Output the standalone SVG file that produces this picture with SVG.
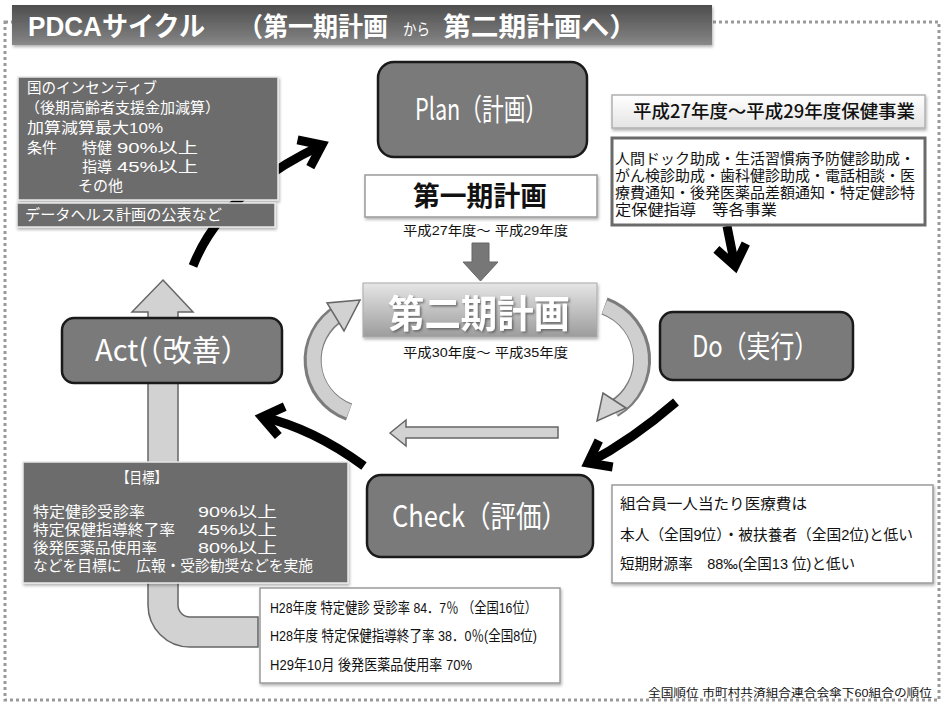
<svg xmlns="http://www.w3.org/2000/svg" width="945" height="709" viewBox="0 0 945 709">
<defs>
<style>
text{font-family:"Liberation Sans","Noto Sans CJK JP",sans-serif;}
.jp{font-family:"Noto Sans CJK JP","Liberation Sans",sans-serif;}
.w{fill:#fff;}
.k{fill:#111;}
.node{fill:#7a7a7a;stroke:#1a1a1a;stroke-width:2.5;}
.dark{fill:#6c6c6c;stroke:#e8e8e8;stroke-width:1.5;}
.wbox{fill:#fff;stroke:#9a9a9a;stroke-width:1.5;}
.lbl{font-size:30px;fill:#fff;}
.sm{font-size:15px;}
.xs{font-size:14.5px;}
.conn{fill:none;stroke:#000;stroke-width:9;}
.garc1{fill:none;stroke:#7c7c7c;stroke-width:18;}
.garc2{fill:none;stroke:#cfcfcf;stroke-width:14;}
.gfill{fill:#d2d2d2;stroke:#666;stroke-width:1.5;}
</style>
<linearGradient id="title" x1="0" y1="0" x2="0" y2="1">
<stop offset="0" stop-color="#4e4e4e"/>
<stop offset="0.8" stop-color="#7a7a7a"/>
<stop offset="1" stop-color="#8a8a8a"/>
</linearGradient>
<linearGradient id="p2" x1="0" y1="0" x2="0" y2="1">
<stop offset="0" stop-color="#e6e6e6"/>
<stop offset="1" stop-color="#9c9c9c"/>
</linearGradient>
<linearGradient id="hdr" x1="0" y1="0" x2="0" y2="1">
<stop offset="0" stop-color="#ffffff"/>
<stop offset="1" stop-color="#e4e4e4"/>
</linearGradient>
<marker id="chev" markerUnits="userSpaceOnUse" markerWidth="40" markerHeight="40" viewBox="-30 -20 40 40" refX="0" refY="0" orient="auto">
<path d="M-20,-15 L0,0 L-20,15" fill="none" stroke="#000" stroke-width="9" stroke-linejoin="miter"/>
</marker>
<filter id="sh" x="-10%" y="-10%" width="120%" height="130%">
<feDropShadow dx="1" dy="2" stdDeviation="1.5" flood-color="#000" flood-opacity="0.3"/>
</filter>
<filter id="tsh" x="-10%" y="-20%" width="120%" height="140%">
<feDropShadow dx="1.5" dy="1.5" stdDeviation="1.2" flood-color="#555" flood-opacity="0.8"/>
</filter>
</defs>
<rect width="945" height="709" fill="#fff"/>
<rect x="5" y="22" width="934" height="678" fill="none" stroke="#9a9a9a" stroke-width="3" stroke-dasharray="3 3"/>

<g id="title-bar">
<rect x="12" y="5" width="700" height="40" fill="url(#title)" filter="url(#sh)"/>
<text x="28" y="36" class="w" font-size="27" font-weight="bold" textLength="177" lengthAdjust="spacingAndGlyphs">PDCAサイクル</text>
<text x="238" y="36" class="w jp" font-size="26" font-weight="bold" textLength="150" lengthAdjust="spacingAndGlyphs">（第一期計画</text>
<text x="403" y="35" class="w jp" font-size="16" textLength="27" lengthAdjust="spacingAndGlyphs">から</text>
<text x="443" y="36" class="w jp" font-size="26" font-weight="bold" textLength="194" lengthAdjust="spacingAndGlyphs">第二期計画へ）</text>
</g>

<g id="connectors">
<path class="conn" d="M193,266 Q222,192 322,145" marker-end="url(#chev)"/>
<path class="conn" d="M727,226 L735,266" marker-end="url(#chev)"/>
<path class="conn" d="M676,402 Q632,440 588,463" marker-end="url(#chev)"/>
<path class="conn" d="M364,466 Q312,428 262,417" marker-end="url(#chev)"/>
<path class="garc1" d="M349,412 A55,55 0 0 1 340.5,312.4"/>
<path class="garc2" d="M349,411 A55,55 0 0 1 340.5,312.4"/>
<polygon class="gfill" points="360,300 327,303 344,331"/>
<path class="garc1" d="M604.5,306 A57,57 0 0 1 613.5,409"/>
<path class="garc2" d="M604.5,307 A57,57 0 0 1 613.5,409"/>
<polygon class="gfill" points="597,421 603,393 626,408"/>
<polygon class="gfill" points="390,433 406,420 406,427 558,427 558,438 406,438 406,446"/>
<polygon fill="#777" stroke="#666" stroke-width="1" points="472,243 489,243 489,262 498,262 480.5,281 463,262 472,262"/>
<path class="gfill" d="M163,280 L193,312 L178,312 L178,605 A12,12 0 0 0 190,617 L258,617 L258,647 L190,647 A42,42 0 0 1 148,605 L148,312 L132,312 Z"/>
</g>

<g id="incentive">
<rect x="18" y="77" width="260" height="123" class="dark" filter="url(#sh)"/>
<text class="w sm" x="27" y="93" textLength="130" lengthAdjust="spacingAndGlyphs">国のインセンティブ</text>
<text class="w sm" x="25" y="113" textLength="195" lengthAdjust="spacingAndGlyphs">（後期高齢者支援金加減算）</text>
<text class="w sm" x="27" y="133" textLength="136" lengthAdjust="spacingAndGlyphs">加算減算最大10%</text>
<text class="w sm" x="27" y="153" textLength="30" lengthAdjust="spacingAndGlyphs">条件</text>
<text class="w sm" x="82" y="153" textLength="30" lengthAdjust="spacingAndGlyphs">特健</text>
<text class="w sm" x="117" y="153" textLength="81" lengthAdjust="spacingAndGlyphs">90%以上</text>
<text class="w sm" x="82" y="172" textLength="30" lengthAdjust="spacingAndGlyphs">指導</text>
<text class="w sm" x="117" y="172" textLength="81" lengthAdjust="spacingAndGlyphs">45%以上</text>
<text class="w sm" x="78" y="191" textLength="45" lengthAdjust="spacingAndGlyphs">その他</text>
</g>
<g id="datahealth">
<rect x="17" y="203" width="258" height="24" class="dark" filter="url(#sh)"/>
<text class="w sm" x="25" y="220" textLength="197" lengthAdjust="spacingAndGlyphs">データヘルス計画の公表など</text>
</g>

<g id="plan">
<rect x="378" y="62" width="209" height="95" rx="16" class="node"/>
<text class="jp lbl" x="415" y="120" textLength="132" lengthAdjust="spacingAndGlyphs">Plan（計画）</text>
</g>

<g id="program-header">
<rect x="612" y="95" width="313" height="33" fill="url(#hdr)" stroke="#b0b0b0" stroke-width="1.5" filter="url(#sh)"/>
<text class="k jp" x="633" y="118" font-size="18" font-weight="500" textLength="282" lengthAdjust="spacingAndGlyphs">平成27年度～平成29年度保健事業</text>
</g>
<g id="program-list">
<rect x="612" y="138" width="313" height="87" fill="#fff" stroke="#6a6a6a" stroke-width="3"/>
<text class="k xs" x="615" y="164" textLength="300" lengthAdjust="spacingAndGlyphs">人間ドック助成・生活習慣病予防健診助成・</text>
<text class="k xs" x="615" y="181" textLength="300" lengthAdjust="spacingAndGlyphs">がん検診助成・歯科健診助成・電話相談・医</text>
<text class="k xs" x="615" y="198" textLength="300" lengthAdjust="spacingAndGlyphs">療費通知・後発医薬品差額通知・特定健診特</text>
<text class="k xs" x="615" y="215" textLength="162" lengthAdjust="spacingAndGlyphs">定保健指導　等各事業</text>
</g>

<g id="phase1">
<rect x="365" y="175" width="232" height="42" class="wbox" filter="url(#sh)"/>
<text class="k jp" x="413" y="206" font-size="27" font-weight="bold" textLength="134" lengthAdjust="spacingAndGlyphs">第一期計画</text>
<text class="k" x="403" y="235" font-size="13" textLength="165" lengthAdjust="spacingAndGlyphs">平成27年度～ 平成29年度</text>
</g>

<g id="phase2">
<rect x="363" y="283" width="234" height="54" fill="url(#p2)" stroke="#aaa" stroke-width="1" filter="url(#sh)"/>
<text class="w" x="388" y="327" font-size="38" font-weight="bold" filter="url(#tsh)" textLength="182" lengthAdjust="spacingAndGlyphs">第二期計画</text>
<text class="k" x="403" y="357" font-size="13" textLength="165" lengthAdjust="spacingAndGlyphs">平成30年度～ 平成35年度</text>
</g>

<g id="do">
<rect x="660" y="312" width="193" height="68" rx="13" class="node"/>
<text class="jp lbl" x="692" y="357" textLength="126" lengthAdjust="spacingAndGlyphs">Do（実行）</text>
</g>

<g id="act">
<rect x="62" y="318" width="220" height="65" rx="12" class="node"/>
<text class="jp lbl" x="95" y="361" textLength="155" lengthAdjust="spacingAndGlyphs">Act(（改善）</text>
</g>

<g id="check">
<rect x="367" y="475" width="226" height="82" rx="14" class="node"/>
<text class="jp lbl" x="392" y="527" textLength="175" lengthAdjust="spacingAndGlyphs">Check（評価）</text>
</g>

<g id="goals">
<rect x="23" y="462" width="325" height="121" class="dark" filter="url(#sh)"/>
<text class="w sm" x="117" y="483" textLength="50" lengthAdjust="spacingAndGlyphs">【目標】</text>
<text class="w sm" x="33" y="517" textLength="112" lengthAdjust="spacingAndGlyphs">特定健診受診率</text>
<text class="w sm" x="198" y="517" textLength="79" lengthAdjust="spacingAndGlyphs">90%以上</text>
<text class="w sm" x="33" y="535" textLength="142" lengthAdjust="spacingAndGlyphs">特定保健指導終了率</text>
<text class="w sm" x="198" y="535" textLength="79" lengthAdjust="spacingAndGlyphs">45%以上</text>
<text class="w sm" x="33" y="553" textLength="124" lengthAdjust="spacingAndGlyphs">後発医薬品使用率</text>
<text class="w sm" x="198" y="553" textLength="79" lengthAdjust="spacingAndGlyphs">80%以上</text>
<text class="w sm" x="33" y="571" textLength="280" lengthAdjust="spacingAndGlyphs">などを目標に　広報・受診勧奨などを実施</text>
</g>

<g id="cost-info">
<rect x="612" y="485" width="321" height="98" class="wbox" filter="url(#sh)"/>
<text class="k sm" x="620" y="509" textLength="187" lengthAdjust="spacingAndGlyphs">組合員一人当たり医療費は</text>
<text class="k sm" x="620" y="540" textLength="293" lengthAdjust="spacingAndGlyphs">本人（全国9位）・被扶養者（全国2位)と低い</text>
<text class="k sm" x="620" y="569" textLength="235" lengthAdjust="spacingAndGlyphs">短期財源率　88‰(全国13 位)と低い</text>
</g>

<g id="results">
<rect x="260" y="588" width="300" height="95" class="wbox" filter="url(#sh)"/>
<text class="k sm" x="270" y="613" textLength="267" lengthAdjust="spacingAndGlyphs">H28年度 特定健診 受診率 84．7％ （全国16位）</text>
<text class="k sm" x="270" y="641" textLength="267" lengthAdjust="spacingAndGlyphs">H28年度 特定保健指導終了率 38．0％(全国8位)</text>
<text class="k sm" x="270" y="670" textLength="202" lengthAdjust="spacingAndGlyphs">H29年10月 後発医薬品使用率 70%</text>
</g>

<g id="footnote">
<text class="k" x="648" y="697" font-size="11" textLength="284" lengthAdjust="spacingAndGlyphs">全国順位 市町村共済組合連合会傘下60組合の順位</text>
</g>
</svg>
